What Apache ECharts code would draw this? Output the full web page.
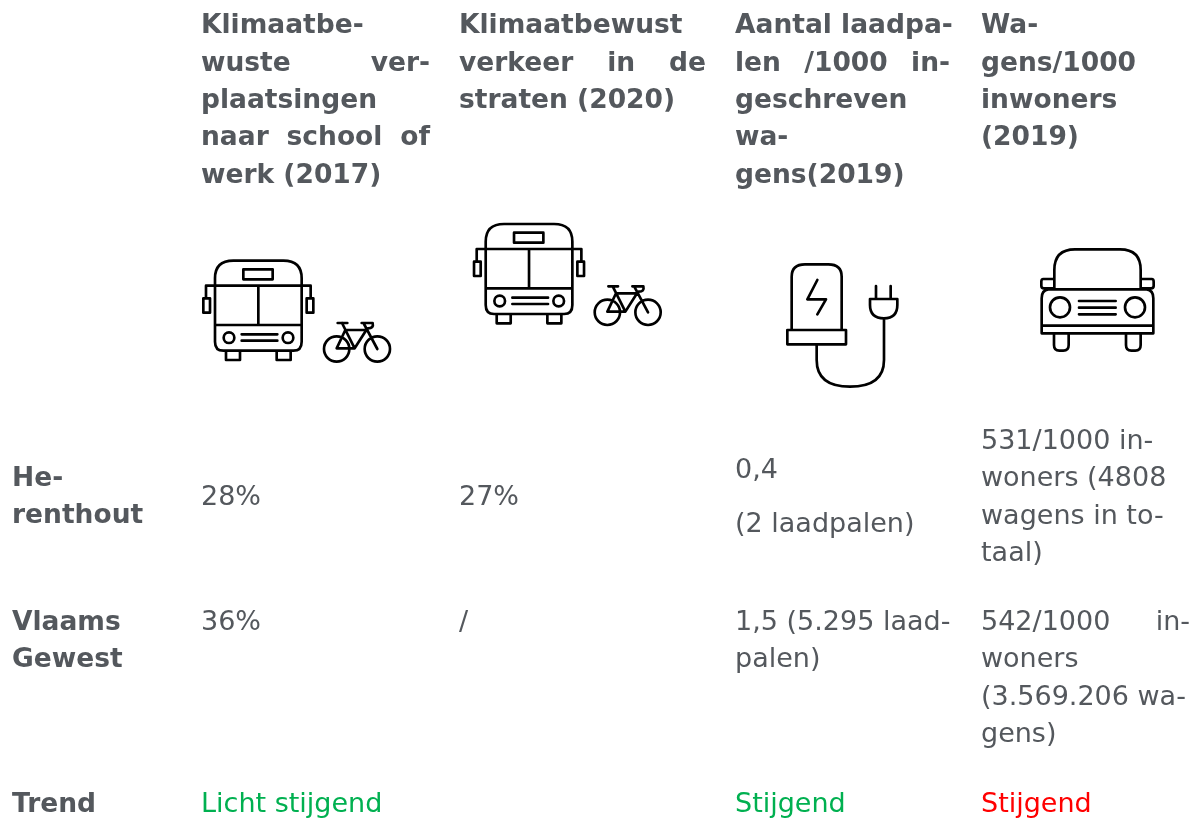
<!DOCTYPE html>
<html>
<head>
<meta charset="utf-8">
<title>Klimaatbewust verkeer Herenthout</title>
<style>
  html, body { margin: 0; padding: 0; background: #fff; }
  #chart { width: 1199px; height: 818px; }
</style>
</head>
<body>
<div id="chart"></div>
<script src="https://cdn.jsdelivr.net/npm/echarts@6/dist/echarts.min.js"></script>
<script>
// table content, one list per row; '|' marks a justified line
const headers = [
  ['Klimaatbe-', 'wuste ver-|', 'plaatsingen', 'naar school of|', 'werk (2017)'],
  ['Klimaatbewust', 'verkeer in de|', 'straten (2020)'],
  ['Aantal laadpa-', 'len /1000 in-|', 'geschreven', 'wa-', 'gens(2019)'],
  ['Wa-', 'gens/1000', 'inwoners', '(2019)']
]
const rowLabels = [['He-', 'renthout'], ['Vlaams', 'Gewest'], ['Trend']]
const herenthout = [
  ['28%'],
  ['27%'],
  ['0,4', '(2 laadpalen)'],
  ['531/1000 in-', 'woners (4808', 'wagens in to-', 'taal)']
]
const vlaamsGewest = [
  ['36%'],
  ['/'],
  ['1,5 (5.295 laad-', 'palen)'],
  ['542/1000 in-|', 'woners', '(3.569.206 wa-', 'gens)']
]
const trend = ['Licht stijgend', '', 'Stijgend', 'Stijgend']
const trendColors = ['#00b050', '', '#00b050', '#ff0000']

const FONT = '"DejaVu Sans", Verdana, sans-serif'
const TEXT_COLOR = '#54585d'
const BOLD_SIZE = 26.5
const NORMAL_SIZE = 27
const LINE = 37.3
const colX = [201, 459, 735, 981]
const colRight = [430, 706, 950, 1190]

const measureCtx = document.createElement('canvas').getContext('2d')

const textEl = (text, x, y, size, weight, color) => ({
  type: 'text',
  x,
  y: y + 2,
  style: {
    text,
    x: 0,
    y: 0,
    fill: color,
    font: `${weight} ${size}px ${FONT}`,
    verticalAlign: 'middle'
  }
})

// justified lines get their words spread over the column width
const lineEls = (line, x, right, y, size, weight, color) => {
  if (!line.endsWith('|')) return [textEl(line, x, y, size, weight, color)]
  const words = line.slice(0, -1).split(' ')
  measureCtx.font = `${weight} ${size}px ${FONT}`
  const widths = words.map(w => measureCtx.measureText(w).width)
  const gap = (right - x - widths.reduce((a, b) => a + b, 0)) / (words.length - 1)
  let cursor = x
  return words.map((w, i) => {
    const el = textEl(w, cursor, y, size, weight, color)
    cursor += widths[i] + gap
    return el
  })
}

const cellEls = (lines, col, firstY, size, weight, color) =>
  lines.flatMap((line, i) => lineEls(line, colX[col], colRight[col], firstY + i * LINE, size, weight, color))

const circle = (cx, cy, r) => `M${cx - r} ${cy}A${r} ${r} 0 1 1 ${cx + r} ${cy}A${r} ${r} 0 1 1 ${cx - r} ${cy}Z`

// icons traced at 3x, scaled back down in renderIcon
const BUS = [
  'M75 227V205Q75 152 130 152H280Q335 152 335 205V227',
  'M75 227V395Q75 422 100 422H310Q335 422 335 395V227',
  'M48 265V227H362V265',
  'M40 265H60V308H40Z', 'M350 265H370V308H350Z',
  'M160 178H248V208H160Z',
  'M205 227V345', 'M75 345H335',
  circle(117, 383, 16), circle(294, 383, 16),
  'M155 373H262', 'M155 392H262',
  'M108 422V450H150V422', 'M260 422V450H302V422'
].join('')

const BIKE = [
  circle(440, 417, 38), circle(562, 417, 38),
  'M443 339H472', 'M456 339L494 415H440L466 360H529L494 415',
  'M515 339H548Q552 355 534 355', 'M522 342L562 417'
].join('')

const CHARGER = [
  'M65 300V140Q65 103 105 103H175Q215 103 215 140V300',
  'M52 300H228V343H52Z',
  'M142 150L112 208H168L142 253',
  'M140 343V390Q140 470 240 470Q342 470 342 390V265',
  'M318 168V207', 'M362 168V207',
  'M300 207H382V225Q382 265 342 265Q300 265 300 225Z'
].join('')

const CAR = [
  'M853 178V120Q853 58 915 58H1050Q1112 58 1112 120V178',
  'M853 147H820Q814 147 814 155V168Q814 175 822 175H853',
  'M1112 147H1145Q1151 147 1151 155V168Q1151 175 1143 175H1112',
  'M835 178H1130Q1150 180 1150 205V310H815V205Q815 180 835 178Z',
  'M815 287H1150',
  circle(870, 232, 30), circle(1095, 232, 30),
  'M927 213H1037', 'M927 233H1037', 'M927 253H1037',
  'M852 310V345Q852 362 868 362H880Q896 362 896 345V310',
  'M1068 310V345Q1068 362 1084 362H1096Q1112 362 1112 345V310'
].join('')

const icons = [
  { path: BUS + BIKE, x: 190, y: 210 },
  { path: BUS + BIKE, x: 460.7, y: 173.3 },
  { path: CHARGER, x: 770, y: 230 },
  { path: CAR, x: 770, y: 230 }
]

const renderIcon = (params) => {
  const icon = icons[params.dataIndex]
  return {
    type: 'path',
    x: icon.x,
    y: icon.y,
    scaleX: 1 / 3,
    scaleY: 1 / 3,
    shape: { pathData: icon.path },
    style: { fill: 'none', stroke: '#000', lineWidth: 8, lineCap: 'round', lineJoin: 'round' }
  }
}

const elements = [
  ...headers.flatMap((h, i) => cellEls(h, i, 24.5, BOLD_SIZE, 'bold', TEXT_COLOR)),
  ...cellEls(rowLabels[0], 0, 477, BOLD_SIZE, 'bold', TEXT_COLOR).map(el => ({ ...el, x: 12 })),
  ...cellEls(rowLabels[1], 0, 621, BOLD_SIZE, 'bold', TEXT_COLOR).map(el => ({ ...el, x: 12 })),
  ...cellEls(rowLabels[2], 0, 803, BOLD_SIZE, 'bold', TEXT_COLOR).map(el => ({ ...el, x: 12 })),
  ...cellEls(herenthout[0], 0, 496, NORMAL_SIZE, 'normal', TEXT_COLOR),
  ...cellEls(herenthout[1], 1, 496, NORMAL_SIZE, 'normal', TEXT_COLOR),
  ...cellEls([herenthout[2][0]], 2, 469, NORMAL_SIZE, 'normal', TEXT_COLOR),
  ...cellEls([herenthout[2][1]], 2, 523, NORMAL_SIZE, 'normal', TEXT_COLOR),
  ...cellEls(herenthout[3], 3, 440, NORMAL_SIZE, 'normal', TEXT_COLOR),
  ...vlaamsGewest.flatMap((c, i) => cellEls(c, i, 621, NORMAL_SIZE, 'normal', TEXT_COLOR)),
  ...trend.flatMap((t, i) => t ? cellEls([t], i, 803, NORMAL_SIZE, 'normal', trendColors[i]) : [])
]

const chart = echarts.init(document.getElementById('chart'))
chart.setOption({
  animation: false,
  backgroundColor: '#fff',
  graphic: { elements },
  series: [{
    type: 'custom',
    coordinateSystem: 'none',
    silent: true,
    renderItem: renderIcon,
    data: icons.map((_, i) => i)
  }]
})
window.addEventListener('resize', () => chart.resize())
</script>
</body>
</html>
